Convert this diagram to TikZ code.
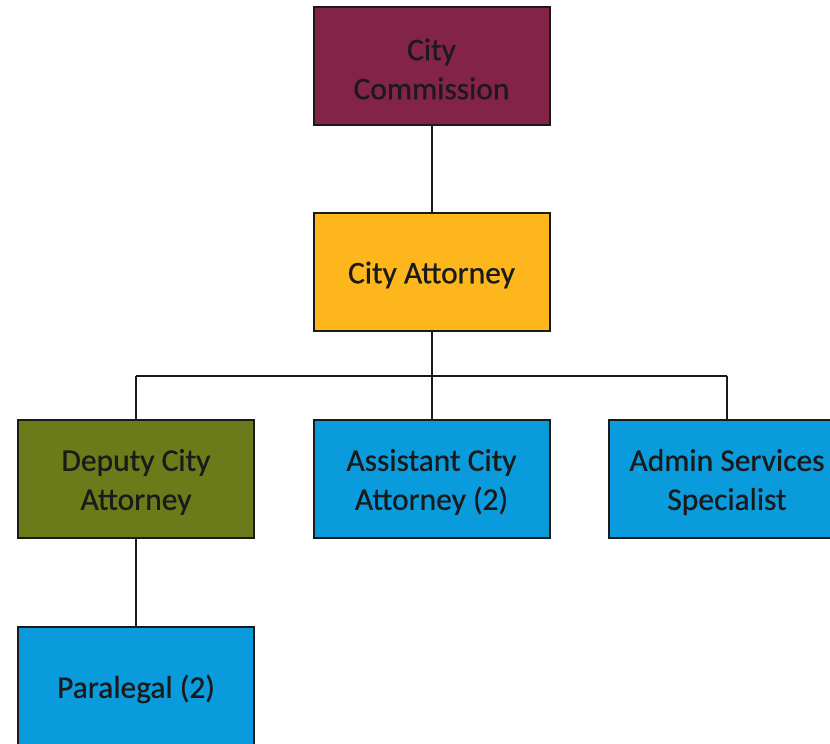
\documentclass[tikz,border=0pt]{standalone}
\usepackage{fontspec}
\setmainfont{Carlito}
\newfontface\boxfont{Carlito}[FakeBold=0.6]
\definecolor{commission}{HTML}{832347}
\definecolor{attorney}{HTML}{FDB71C}
\definecolor{deputy}{HTML}{6B7B1A}
\definecolor{staff}{HTML}{0A9BDC}
\definecolor{ink}{HTML}{1A1A1A}
\begin{document}
\begin{tikzpicture}[x=1pt,y=-1pt,
  orgbox/.style={draw=ink,line width=2pt,minimum width=236pt,minimum height=118pt,
    inner sep=0pt},
  boxtext/.style={inner sep=0pt,align=center,text=ink,
    font=\boxfont\fontsize{31.5}{39}\selectfont},
  link/.style={draw=ink,line width=2pt}]
\useasboundingbox (0,0) rectangle (830,744);
\clip (0,0) rectangle (830,744);
\fill[white] (0,0) rectangle (830,744);
% the boxes (centres)
\node[orgbox,fill=commission] (comm) at (431.5,66) {};
\node[orgbox,fill=attorney] (ca) at (431.5,272) {};
\node[orgbox,fill=deputy] (dca) at (136,479) {};
\node[orgbox,fill=staff] (aca) at (431.5,479) {};
\node[orgbox,fill=staff] (ass) at (727,479) {};
\node[orgbox,fill=staff] (para) at (136,686) {};
% their titles, set a little below the centre
\node[boxtext] (commT) at ([yshift=-3pt]comm.center) {City\\Commission};
\node[boxtext] (caT) at ([yshift=-3pt]ca.center) {City Attorney};
\node[boxtext] (dcaT) at ([yshift=-3pt]dca.center) {Deputy City\\Attorney};
\node[boxtext] (acaT) at ([yshift=-3pt]aca.center) {Assistant City\\Attorney (2)};
\node[boxtext] (assT) at ([yshift=-3pt]ass.center) {Admin Services\\Specialist};
\node[boxtext] (paraT) at ([yshift=-3pt]para.center) {Paralegal (2)};
% bus line joining the three reports
\coordinate (bus) at (431.5,376);
\coordinate (busL) at (136,376);
\coordinate (busR) at (727,376);
\draw[link] (comm.south) -- (ca.north);
\draw[link] (ca.south) -- (bus) -- (aca.north);
\draw[link] (busL) -- (busR);
\draw[link] (busL) -- (dca.north);
\draw[link] (busR) -- (ass.north);
\draw[link] (dca.south) -- (para.north);
\end{tikzpicture}
\end{document}
